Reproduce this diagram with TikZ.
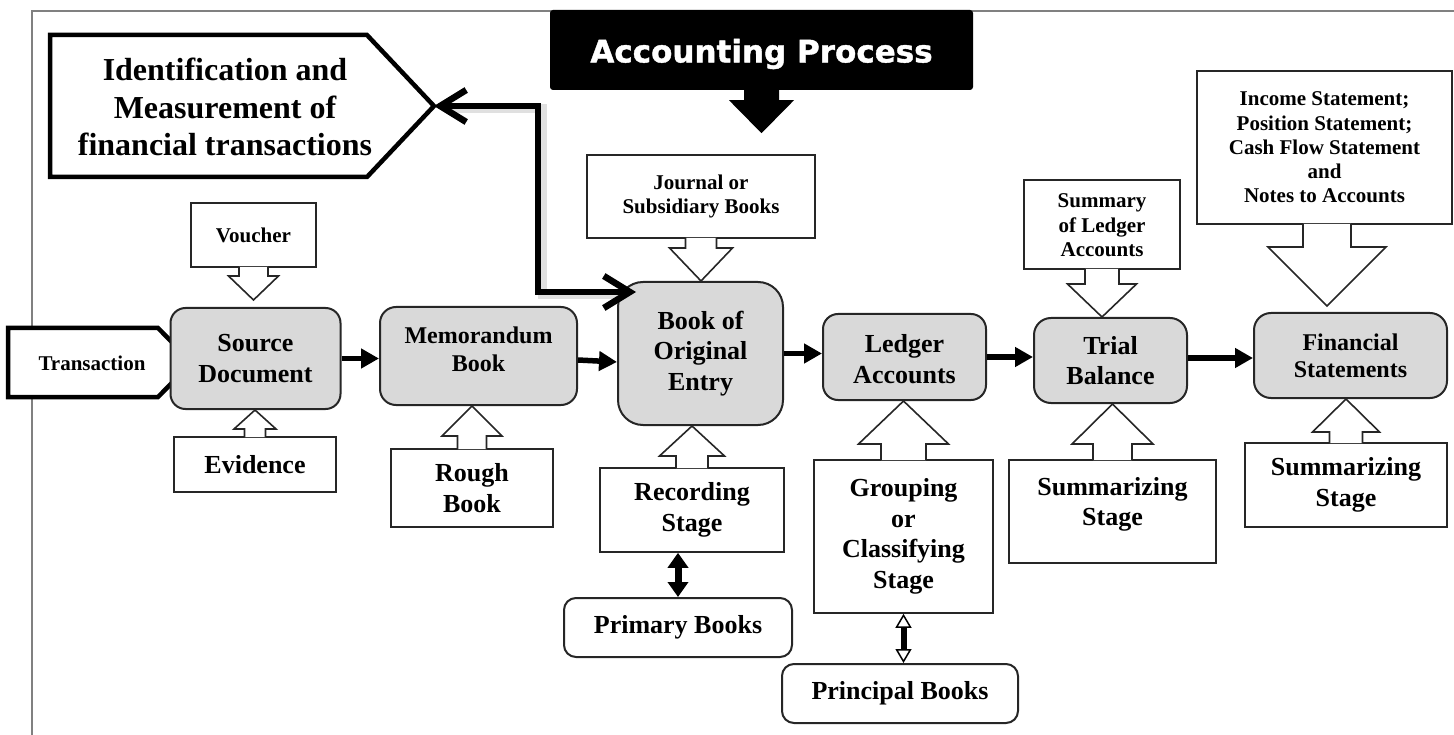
\documentclass[tikz,border=0pt]{standalone}
\usepackage{fontspec}
\setmainfont{Liberation Serif}
\newfontfamily\apfont{DejaVu Sans}[BoldFeatures={FakeBold=1.3}]
\usetikzlibrary{arrows.meta,calc}
% pointer of a callout: #1 style, #2 base point on box edge, #3 tip, #4 stem half width, #5 head half width, #6 head length
\newcommand\callptr[6]{%
  \path[#1] let \p1=#2, \p2=#3, \n1={sign(\y2-\y1)} in
    ({\x1-#4},{\y1-\n1*0.8pt}) -- ({\x1-#4},{\y2-\n1*#6}) -- ({\x1-#5},{\y2-\n1*#6}) -- (\x2,\y2)
    -- ({\x1+#5},{\y2-\n1*#6}) -- ({\x1+#4},{\y2-\n1*#6}) -- ({\x1+#4},{\y1-\n1*0.8pt});
}
% text block shifted up by #1 without changing its size
\newcommand\liftblock[2]{\raisebox{#1}[\height][\depth]{\begin{tabular}{@{}c@{}}#2\end{tabular}}}
\begin{document}
\begin{tikzpicture}[x=1pt,y=-1pt,
  mainbox/.style={draw=black!85, line width=2pt, fill=black!15, rounded corners=15pt, inner sep=0pt, align=center,
    font=\bfseries\fontsize{26}{30.5}\selectfont},
  bookbox/.style={draw=black!85, line width=2pt, fill=white, rounded corners=12pt, inner sep=0pt, align=center,
    font=\bfseries\fontsize{26}{30.5}\selectfont},
  callout/.style={draw=black!85, line width=1.6pt, fill=white, inner sep=0pt, align=center,
    font=\bfseries\fontsize{26}{30.5}\selectfont},
  smalltext/.style={font=\bfseries\fontsize{21}{24.5}\selectfont},
  ptr/.style={fill=white, draw=black!85, line width=1.6pt, line join=miter},
  penta/.style={draw=black, line width=4.5pt, line join=miter, fill=white},
  flow/.style={line width=5.5pt, -{Triangle[length=18pt,width=19pt]}},
  bigarrow/.style={line width=6.5pt, line join=miter,
    {Straight Barb[length=26pt,width=32pt]}-{Straight Barb[length=26pt,width=32pt]}},
  dblfill/.style={line width=7pt, {Triangle[length=15pt,width=20pt]}-{Triangle[length=15pt,width=20pt]}},
  dblopen/.style={line width=6pt, {Triangle[open,length=14pt,width=16pt,line width=1.5pt,fill=white]}-{Triangle[open,length=14pt,width=16pt,line width=1.5pt,fill=white]}}
]
\useasboundingbox (0,0) rectangle (1454,735);
% frame
\draw[black!50, line width=2pt] (32,735) -- (32,11) -- (1454,11);

% identification pentagon
\coordinate (identtip) at (434,106);
\draw[penta] (50,35) -- (367,35) -- (identtip) -- (367,177) -- (50,177) -- cycle;
\node[align=center, font=\bfseries\fontsize{32}{37.5}\selectfont] (ident) at (225,107)
  {Identification and\\Measurement of\\financial transactions};

% transaction pentagon
\draw[penta] (8,328) -- (158,328) -- (192,362.5) -- (158,397) -- (8,397) -- cycle;
\node[smalltext] (trans) at (92,363) {Transaction};

% main stages
\node[mainbox, minimum width=170pt, minimum height=101pt] (sd) at (255.5,358.5) {Source\\Document};
\node[mainbox, minimum width=197pt, minimum height=98pt, rounded corners=16pt,
  font=\bfseries\fontsize{24}{28}\selectfont] (memo) at (478.5,356) {\liftblock{4pt}{Memorandum\\Book}};
\node[mainbox, minimum width=165pt, minimum height=143pt, rounded corners=25pt] (book) at (700.5,353.5) {Book of\\Original\\Entry};
\node[mainbox, minimum width=163pt, minimum height=86pt] (ledger) at (904.5,357) {\liftblock{-5pt}{Ledger\\Accounts}};
\node[mainbox, minimum width=153pt, minimum height=85pt, rounded corners=17pt] (trial) at (1110.5,360.5) {\liftblock{-3pt}{Trial\\Balance}};
\node[mainbox, minimum width=193pt, minimum height=85pt, rounded corners=17pt,
  font=\bfseries\fontsize{24}{27}\selectfont] (fs) at (1350.5,355.5) {Financial\\Statements};

% book boxes
\node[bookbox, minimum width=228pt, minimum height=59pt] (prim) at (678,627.5) {Primary Books};
\node[bookbox, minimum width=236pt, minimum height=59pt] (princ) at (900,693.5) {Principal Books};

% callouts
\node[callout, smalltext, minimum width=125pt, minimum height=64pt] (vou) at (253.5,235) {Voucher};
\node[callout, minimum width=162pt, minimum height=55pt] (evi) at (255,464.5) {Evidence};
\node[callout, minimum width=162pt, minimum height=78pt] (rough) at (472,488) {Rough\\Book};
\node[callout, smalltext, minimum width=228pt, minimum height=83pt] (jour) at (701,196.5) {Journal or\\Subsidiary Books};
\node[callout, minimum width=184pt, minimum height=84pt] (rec) at (692,510) {Recording\\Stage};
\node[callout, minimum width=179pt, minimum height=153pt] (grp) at (903.5,536.5) {Grouping\\or\\Classifying\\Stage};
\node[callout, smalltext, minimum width=156pt, minimum height=89pt] (summ) at (1102,224.5) {\liftblock{-3pt}{Summary\\of Ledger\\Accounts}};
\node[callout, minimum width=207pt, minimum height=103pt] (sst) at (1112.5,511.5) {\liftblock{7pt}{Summarizing\\Stage}};
\node[callout, smalltext, font=\bfseries\fontsize{21}{24.2}\selectfont, minimum width=255pt, minimum height=153pt] (inc) at (1324.5,147.5)
  {Income Statement;\\Position Statement;\\Cash Flow Statement\\and\\Notes to Accounts};
\node[callout, minimum width=202pt, minimum height=84pt] (sfs) at (1346,485) {Summarizing\\Stage};

% callout pointers
\callptr{ptr}{(vou.south)}{($(vou.south |- sd.north)+(0,-7)$)}{14.5pt}{25pt}{24pt}
\callptr{ptr}{(evi.north)}{(evi.north |- sd.south)}{10.5pt}{21pt}{19pt}
\callptr{ptr}{(rough.north)}{(rough.north |- memo.south)}{14.5pt}{30pt}{30pt}
\callptr{ptr}{(jour.south)}{(jour.south |- book.north)}{15.5pt}{31.5pt}{33pt}
\callptr{ptr}{(rec.north)}{(rec.north |- book.south)}{16pt}{32.5pt}{30pt}
\callptr{ptr}{(grp.north)}{(grp.north |- ledger.south)}{22.5pt}{45pt}{43pt}
\callptr{ptr}{(summ.south)}{(summ.south |- trial.north)}{17pt}{34.5pt}{33pt}
\callptr{ptr}{(sst.north)}{(sst.north |- trial.south)}{19.5pt}{40.5pt}{40pt}
\callptr{ptr}{([xshift=2.5pt]inc.south)}{($([xshift=2.5pt]inc.south |- fs.north)+(0,-6)$)}{24pt}{59pt}{59pt}
\callptr{ptr}{(sfs.north)}{(sfs.north |- fs.south)}{16.5pt}{33.5pt}{33pt}

% flow arrows
\draw[flow] (sd.east) -- (sd.east -| memo.west);
\draw[flow] ([yshift=-4pt]memo.east) -- ([yshift=-8.5pt]book.west);
\draw[flow] (book.east) -- (book.east -| ledger.west);
\draw[flow] (ledger.east) -- (ledger.east -| trial.west);
\draw[flow] ([yshift=2.5pt]trial.east) -- ([yshift=2.5pt]trial.east -| fs.west);

% vertical double arrows
\draw[dblfill] (prim.north |- rec.south) -- (prim.north);
\draw[dblopen] (grp.south) -- (grp.south |- princ.north);

% identification <-> book of original entry
\coordinate (booktip) at ($(book.north west)+(19,11)$);
\draw[black!12, line width=9pt, line join=miter] ([shift={(2,3)}]identtip) ++(12,0) -- ++(94,0) |- ($(booktip)+(-12,3)$);
\draw[bigarrow] (identtip) -- ++(104,0) |- (booktip);

% accounting process banner
\node[fill=black, rounded corners=3pt, minimum width=423pt, minimum height=80pt, text=white, inner sep=0pt,
  font=\apfont\bfseries\fontsize{31}{36}\selectfont] (ap) at (761.5,50) {\raisebox{-4pt}[\height][\depth]{Accounting Process}};
\callptr{fill=black}{(ap.south)}{($(ap.south)+(0,43)$)}{17.5pt}{32.5pt}{33pt}
\end{tikzpicture}
\end{document}
